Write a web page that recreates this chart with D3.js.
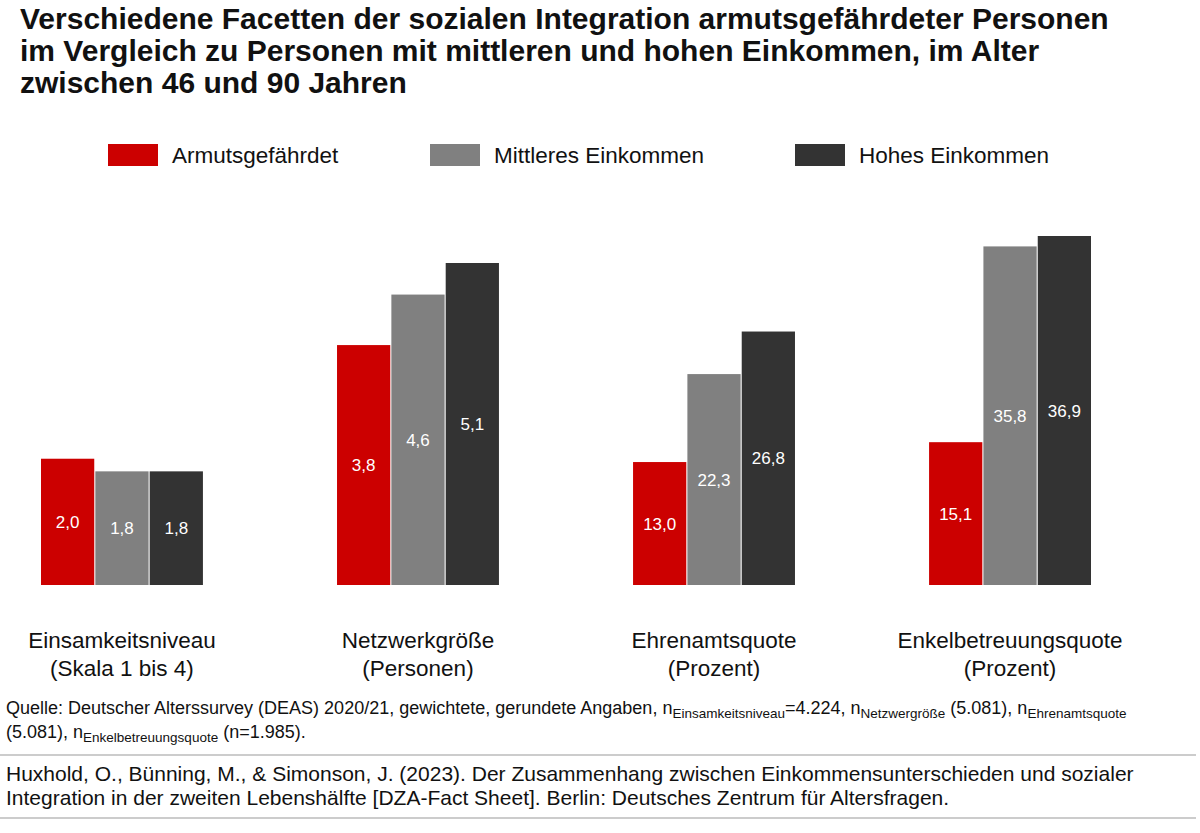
<!DOCTYPE html>
<html><head><meta charset="utf-8">
<script src="https://cdn.jsdelivr.net/npm/d3@7"></script>
<style>body{margin:0;background:#fff;font-family:Arial,"Liberation Sans",sans-serif;}</style>
</head><body><div id="chart"></div>
<script>
const groups = ["Einsamkeitsniveau", "Netzwerkgröße", "Ehrenamtsquote", "Enkelbetreuungsquote"];
const groupSub = ["(Skala 1 bis 4)", "(Personen)", "(Prozent)", "(Prozent)"];
const series = ["Armutsgefährdet", "Mittleres Einkommen", "Hohes Einkommen"];
const colors = ["#cc0000", "#808080", "#333333"];
const armut = [2.0, 3.8, 13.0, 15.1];
const mittel = [1.8, 4.6, 22.3, 35.8];
const hoch = [1.8, 5.1, 26.8, 36.9];
const unitType = ["count", "count", "pct", "pct"];

const W = 1200, H = 833, base = 585;
const svg = d3.select("#chart").append("svg").attr("width", W).attr("height", H);

// title
["Verschiedene Facetten der sozialen Integration armutsgefährdeter Personen",
 "im Vergleich zu Personen mit mittleren und hohen Einkommen, im Alter",
 "zwischen 46 und 90 Jahren"].forEach((t, i) =>
  svg.append("text").attr("x", 20).attr("y", 29 + i * 32).attr("font-size", 30)
    .attr("font-weight", "bold").attr("fill", "#111").text(t));

// legend
const legX = [108, 430, 795];
series.forEach((s, i) => {
  svg.append("rect").attr("x", legX[i]).attr("y", 144).attr("width", 50).attr("height", 22).attr("fill", colors[i]);
  svg.append("text").attr("x", legX[i] + 64).attr("y", 163).attr("font-size", 22.5).attr("fill", "#111").text(s);
});

const x = d3.scaleBand().domain(groups).range([41, 1091]).paddingInner(0.453).paddingOuter(0);
const xs = d3.scaleBand().domain(series).range([0, x.bandwidth()]).paddingInner(0.02);
const yScales = {
  count: d3.scaleLinear().domain([0, 5.1]).range([base, base - 322]),
  pct: d3.scaleLinear().domain([0, 36.9]).range([base, base - 349])
};
const fmt = v => d3.format(".1f")(v).replace(".", ",");

const vals = [armut, mittel, hoch];
groups.forEach((g, gi) => {
  const y = yScales[unitType[gi]];
  const gg = svg.append("g").attr("transform", `translate(${x(g)},0)`);
  series.forEach((s, si) => {
    const v = vals[si][gi];
    gg.append("rect").attr("x", xs(s)).attr("y", y(v)).attr("width", xs.bandwidth())
      .attr("height", base - y(v)).attr("fill", colors[si]);
    gg.append("text").attr("x", xs(s) + xs.bandwidth() / 2).attr("y", (y(v) + base) / 2 + 6)
      .attr("text-anchor", "middle").attr("font-size", 17).attr("fill", "#fff").text(fmt(v));
  });
  const cx = x(g) + x.bandwidth() / 2;
  svg.append("text").attr("x", cx).attr("y", 648).attr("text-anchor", "middle").attr("font-size", 22.5).attr("fill", "#111").text(g);
  svg.append("text").attr("x", cx).attr("y", 676).attr("text-anchor", "middle").attr("font-size", 22.5).attr("fill", "#111").text(groupSub[gi]);
});

// source note
const n1 = svg.append("text").attr("x", 6).attr("y", 714).attr("font-size", 18).attr("fill", "#111");
n1.append("tspan").text("Quelle: Deutscher Alterssurvey (DEAS) 2020/21, gewichtete, gerundete Angaben, n");
n1.append("tspan").attr("font-size", 13.5).attr("dy", 4).text("Einsamkeitsniveau");
n1.append("tspan").attr("dy", -4).text("=4.224, n");
n1.append("tspan").attr("font-size", 13.5).attr("dy", 4).text("Netzwergröße");
n1.append("tspan").attr("dy", -4).text(" (5.081), n");
n1.append("tspan").attr("font-size", 13.5).attr("dy", 4).text("Ehrenamtsquote");
const n2 = svg.append("text").attr("x", 6).attr("y", 738).attr("font-size", 18).attr("fill", "#111");
n2.append("tspan").text("(5.081), n");
n2.append("tspan").attr("font-size", 13.5).attr("dy", 4).text("Enkelbetreuungsquote");
n2.append("tspan").attr("dy", -4).text(" (n=1.985).");

svg.append("line").attr("x1", 0).attr("x2", 1196).attr("y1", 755).attr("y2", 755).attr("stroke", "#999");
svg.append("text").attr("x", 6).attr("y", 781).attr("font-size", 21).attr("fill", "#111")
  .text("Huxhold, O., Bünning, M., & Simonson, J. (2023). Der Zusammenhang zwischen Einkommensunterschieden und sozialer");
svg.append("text").attr("x", 6).attr("y", 805).attr("font-size", 21).attr("fill", "#111")
  .text("Integration in der zweiten Lebenshälfte [DZA-Fact Sheet]. Berlin: Deutsches Zentrum für Altersfragen.");
svg.append("line").attr("x1", 0).attr("x2", 1196).attr("y1", 818).attr("y2", 818).attr("stroke", "#999");
</script></body></html>
